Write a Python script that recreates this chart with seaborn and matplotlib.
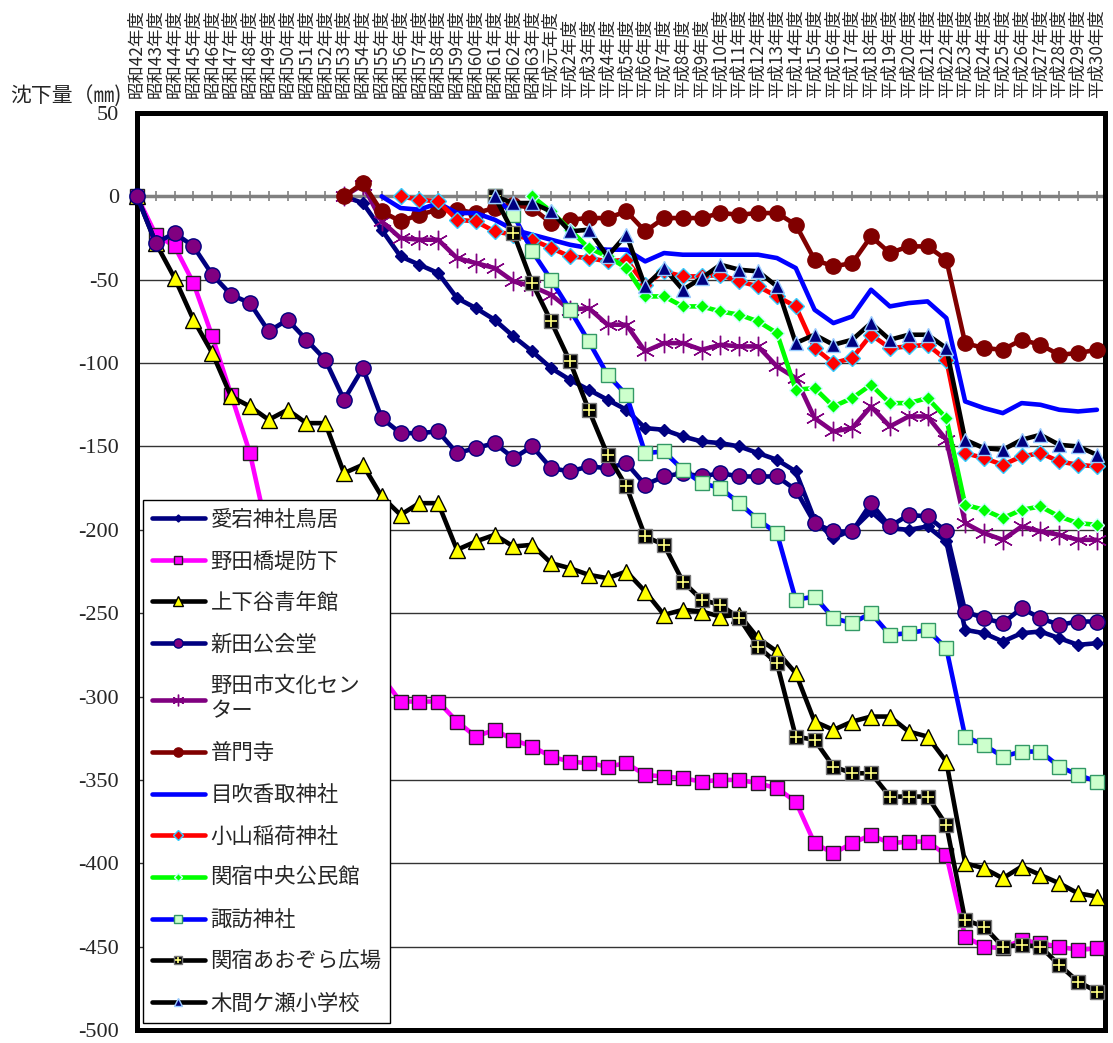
import numpy as np
import pandas as pd
import seaborn as sns
import matplotlib.pyplot as plt
from matplotlib.patches import Rectangle
from matplotlib.legend_handler import HandlerTuple

# 年度ラベル（昭和42年度〜平成30年度）
years = [f"昭和{n}年度" for n in range(42, 64)] + ["平成元年度"] + [f"平成{n}年度" for n in range(2, 31)]

# 各観測点の累積沈下量 (mm)。観測開始前は None
atago = [None]*11 + [0, -4, -20, -36, -41, -46, -61, -67, -74, -84, -93, -103, -110, -116, -122, -128,
                     -139, -140, -144, -147, -148, -150, -154, -158, -165, -194, -205, -200, -189, -199,
                     -200, -198, -207, -260, -262, -267, -262, -261, -265, -269, -268]
nodabashi = [0, -23, -30, -52, -84, -119, -154, -205, -240, -258, -270, -278, -284, -288, -303, -303, -303,
             -315, -324, -320, -326, -330, -336, -339, -340, -342, -340, -347, -348, -349, -351, -350,
             -350, -352, -355, -363, -388, -394, -388, -383, -388, -387, -387, -395, -444, -450, -451,
             -446, -448, -450, -452, -451]
kamigeya = [0, -28, -49, -74, -94, -120, -126, -134, -128, -136, -136, -166, -161, -180, -191, -184, -184,
            -212, -207, -203, -210, -209, -220, -223, -227, -229, -225, -237, -251, -248, -249, -252,
            -251, -265, -273, -286, -315, -320, -315, -312, -312, -321, -324, -339, -400, -403, -409,
            -402, -407, -412, -418, -420]
nitta = [0, -28, -22, -30, -47, -59, -64, -81, -74, -86, -98, -122, -103, -133, -142, -142, -141, -154,
         -151, -148, -157, -150, -163, -165, -162, -163, -160, -173, -168, -166, -168, -166, -168, -168,
         -168, -176, -196, -201, -201, -184, -198, -191, -192, -201, -249, -253, -256, -247, -253, -257,
         -255, -255]
bunka = [None]*11 + [0, 7, -15, -25, -26, -26, -37, -40, -43, -51, -54, -59, -68, -67, -77, -77, -93, -88,
                     -88, -92, -89, -90, -90, -102, -109, -133, -141, -139, -126, -138, -132, -132, -146,
                     -196, -202, -206, -198, -201, -203, -206, -206]
fumonji = [None]*11 + [0, 8, -9, -15, -11, -8, -8, -10, -7, -5, -7, -16, -14, -13, -13, -9, -21, -13, -13,
                       -13, -10, -11, -10, -10, -17, -38, -42, -40, -24, -34, -30, -30, -38, -88, -91, -92,
                       -86, -89, -95, -94, -92]
mebuki = [None]*13 + [0, -7, -8, -4, -10, -10, -14, -20, -23, -26, -29, -31, -32, -32, -39, -34, -35, -35,
                      -35, -35, -35, -37, -43, -68, -76, -72, -56, -66, -64, -63, -73, -123, -127, -130,
                      -124, -125, -128, -129, -128]
oyama = [None]*14 + [0, -2, -3, -14, -15, -21, -23, -26, -31, -36, -37, -39, -38, -53, -45, -48, -48, -47,
                     -51, -54, -60, -66, -91, -100, -97, -83, -91, -90, -89, -98, -154, -157, -161, -156,
                     -154, -159, -161, -162]
sekiyado = [None]*21 + [0, -9, -20, -31, -36, -43, -60, -60, -66, -66, -69, -71, -75, -82, -116, -115, -126,
                        -121, -113, -124, -124, -121, -133, -185, -188, -193, -188, -186, -192, -196, -197]
suwa = [None]*19 + [0, -11, -33, -50, -68, -87, -107, -119, -154, -153, -164, -172, -175, -184, -194, -202,
                    -242, -240, -253, -256, -250, -263, -262, -260, -271, -324, -329, -336, -333, -333,
                    -342, -347, -351]
aozora = [None]*19 + [0, -22, -52, -75, -99, -128, -155, -174, -204, -209, -231, -242, -245, -253, -270,
                      -280, -324, -326, -342, -346, -346, -360, -360, -360, -377, -434, -438, -450, -449,
                      -450, -461, -471, -477]
kimagase = [None]*19 + [0, -4, -4, -9, -21, -20, -36, -23, -54, -43, -56, -49, -41, -44, -45, -54, -88, -83,
                        -89, -86, -76, -86, -83, -83, -91, -146, -151, -152, -146, -143, -149, -150, -155]

stations = {
    "愛宕神社鳥居": atago, "野田橋堤防下": nodabashi, "上下谷青年館": kamigeya, "新田公会堂": nitta,
    "野田市文化センター": bunka, "普門寺": fumonji, "目吹香取神社": mebuki, "小山稲荷神社": oyama,
    "関宿中央公民館": sekiyado, "諏訪神社": suwa, "関宿あおぞら広場": aozora, "木間ケ瀬小学校": kimagase,
}

styles = {
    "愛宕神社鳥居": dict(color="#000080", marker="D", markersize=6, markerfacecolor="#000080", markeredgecolor="#000080"),
    "野田橋堤防下": dict(color="#FF00FF", marker="s", markersize=10, markerfacecolor="#FF00FF", markeredgecolor="#222222"),
    "上下谷青年館": dict(color="#000000", marker="^", markersize=11, markerfacecolor="#FFFF00", markeredgecolor="#000000"),
    "新田公会堂": dict(color="#000080", marker="o", markersize=11, markerfacecolor="#800080", markeredgecolor="#000080"),
    "野田市文化センター": dict(color="#800080", marker=(6, 2, 0), markersize=14, markeredgecolor="#800080"),
    "普門寺": dict(color="#800000", marker="o", markersize=11, markerfacecolor="#800000", markeredgecolor="#800000"),
    "目吹香取神社": dict(color="#0000FF"),
    "小山稲荷神社": dict(color="#FF0000", marker="D", markersize=8, markerfacecolor="#FF0000", markeredgecolor="#33CCFF"),
    "関宿中央公民館": dict(color="#00FF00", marker="D", markersize=7, markerfacecolor="#00FF00", markeredgecolor="#CCFFFF"),
    "諏訪神社": dict(color="#0000FF", marker="s", markersize=10, markerfacecolor="#CCFFCC", markeredgecolor="#339966"),
    "関宿あおぞら広場": dict(color="#000000", marker="s", markersize=10, markerfacecolor="#000000", markeredgecolor="#777777"),
    "木間ケ瀬小学校": dict(color="#000000", marker="^", markersize=10, markerfacecolor="#000080", markeredgecolor="#99CCFF"),
}

df = pd.DataFrame(stations, dtype=float)
df["x"] = np.arange(len(years))
long = df.melt(id_vars="x", var_name="地点", value_name="沈下量").dropna()

sns.set_style("white")
plt.rcParams['font.family'] = ['Noto Sans CJK JP', 'DejaVu Sans']
plt.rcParams['axes.unicode_minus'] = False

fig = plt.figure(figsize=(11.13, 10.43), dpi=100)
ax = fig.add_axes([137/1113, 13/1043, 968/1113, 917/1043])

plus_handle = None
for name in stations:
    sub = long[long["地点"] == name]
    sns.lineplot(data=sub, x="x", y="沈下量", ax=ax, label=name, linewidth=3.3,
                 markeredgewidth=1.0, errorbar=None, clip_on=False, **styles[name])
    if name == "関宿あおぞら広場":
        plus_handle, = ax.plot(sub["x"], sub["沈下量"], linestyle="none", marker="+",
                               markersize=8, markeredgecolor="#FFFF80", markeredgewidth=1.2,
                               clip_on=False)

ax.set_xlim(0, 51.43)
ax.set_ylim(-500, 50)
ax.set_xlabel("")
ax.set_ylabel("")

# y=0 の横軸（灰色）と目盛
for s in ["top", "left", "right"]:
    ax.spines[s].set_visible(False)
ax.spines["bottom"].set_position(("data", 0))
ax.spines["bottom"].set_color("#808080")
ax.spines["bottom"].set_linewidth(2.5)
ax.spines["bottom"].set_zorder(1.5)
ax.set_axisbelow(True)

ax.set_xticks(np.arange(len(years)))
ax.set_xticklabels(years, rotation=90, fontsize=12.5)
ax.tick_params(axis="x", direction="inout", length=7, width=1.2, color="#808080",
               bottom=True, top=False, labelbottom=False, labeltop=True, pad=7)

ax.set_yticks(np.arange(-500, 51, 50))
ax.tick_params(axis="y", length=0, pad=13, labelsize=16)
for lbl in ax.get_yticklabels():
    lbl.set_fontfamily(["Liberation Serif"])

ax.yaxis.grid(True, color="#333333", linewidth=1.0)
ax.xaxis.grid(False)

# 太い外枠
ax.add_patch(Rectangle((0, 0), 1, 1, transform=ax.transAxes, fill=False,
                       edgecolor="black", linewidth=3.6, clip_on=False, zorder=1.8))

fig.text(10/1113, 1 - 97/1043, "沈下量（㎜)", fontsize=15, ha="left", va="center")

handles, labels = ax.get_legend_handles_labels()
handles = list(handles)
labels = ["野田市文化セン\nター" if l == "野田市文化センター" else l for l in labels]
i = labels.index("関宿あおぞら広場")
handles[i] = (handles[i], plus_handle)
leg = ax.legend(handles, labels, loc="upper left", bbox_to_anchor=(6/968, 530/917),
                borderaxespad=0, fontsize=15.4, frameon=True, fancybox=False,
                edgecolor="black", framealpha=1, handlelength=2.5, handletextpad=0.25,
                labelspacing=0.92, borderpad=0.4, markerscale=0.6,
                handler_map={tuple: HandlerTuple(ndivide=1)})
leg.get_frame().set_linewidth(1.0)

fig.savefig("out.png", dpi=100)
